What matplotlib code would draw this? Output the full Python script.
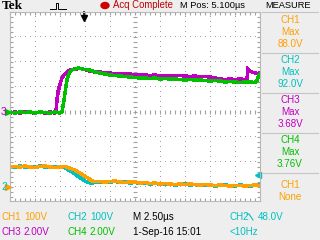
import numpy as np
import matplotlib
matplotlib.use('Agg')
import matplotlib.pyplot as plt
from matplotlib.lines import Line2D
from matplotlib.patches import Circle

# scope settings
t_center = 5.1      # M Pos, us
t_per_div = 2.5     # us/div
ch_scale = {'CH1': 100.0, 'CH2': 100.0, 'CH3': 2.0, 'CH4': 2.0}   # V/div
ch_offset = {'CH1': -3.0, 'CH2': -3.0, 'CH3': 0.0, 'CH4': 0.0}   # div
ch_color = {'CH1': '#FFA000', 'CH2': '#00C0C0', 'CH3': '#C000C0', 'CH4': '#00C000'}

# traces (time in us, volts)
ch3_t = [-7.4, -6.9, -6.4, -5.9, -5.4, -4.9, -4.4, -3.9, -3.4, -2.9,
         -2.8, -2.7, -2.6, -2.4, -2.2, -2.0, -1.8, -1.6, -1.4, -0.9,
         -0.4, 0.1, 0.6, 1.1, 1.6, 2.1, 2.6, 3.1, 3.6, 4.1,
         4.6, 5.1, 5.6, 6.1, 6.6, 7.1, 7.6, 8.1, 8.6, 9.1,
         9.6, 10.1, 10.6, 11.1, 11.6, 12.1, 12.6, 13.1, 13.6, 14.1,
         14.6, 15.1, 15.6, 16.1, 16.3, 16.4, 16.6, 16.8, 17.1, 17.4,
         17.6]
ch3_v = [-0.08, 0.00, -0.08, 0.00, -0.04, -0.08, 0.00, -0.08, 0.00, -0.08,
         0.00, 0.96, 1.60, 2.24, 2.72, 2.96, 3.12, 3.28, 3.36, 3.44,
         3.48, 3.40, 3.28, 3.20, 3.20, 3.12, 3.12, 3.04, 3.08, 3.04,
         3.04, 2.96, 3.00, 2.96, 2.92, 2.96, 2.88, 2.92, 2.88, 2.88,
         2.92, 2.88, 2.84, 2.88, 2.80, 2.84, 2.80, 2.72, 2.64, 2.60,
         2.64, 2.60, 2.64, 2.60, 2.64, 3.44, 3.28, 3.20, 3.12, 3.08,
         3.12]

ch4_t = [-7.4, -6.9, -6.4, -5.9, -5.4, -4.9, -4.4, -3.9, -3.4, -2.9,
         -2.4, -2.2, -2.1, -2.0, -1.9, -1.8, -1.7, -1.6, -1.4, -1.2,
         -0.9, -0.6, -0.4, 0.1, 0.6, 1.1, 1.6, 2.1, 2.6, 3.1,
         3.6, 4.1, 4.6, 5.1, 5.6, 6.1, 6.6, 7.1, 7.6, 8.1,
         8.6, 9.1, 9.6, 10.1, 10.6, 11.1, 11.6, 12.1, 12.6, 13.1,
         13.6, 14.1, 14.6, 15.1, 15.6, 16.1, 16.6, 17.1, 17.3, 17.4,
         17.6]
ch4_v = [0.00, -0.08, 0.00, -0.04, 0.00, -0.08, 0.00, -0.04, -0.08, 0.00,
         -0.08, 0.00, 0.48, 0.96, 1.52, 2.08, 2.56, 2.88, 3.20, 3.36,
         3.44, 3.52, 3.48, 3.40, 3.36, 3.20, 3.12, 3.04, 2.96, 2.92,
         2.88, 2.84, 2.80, 2.76, 2.72, 2.72, 2.68, 2.72, 2.64, 2.68,
         2.64, 2.64, 2.60, 2.56, 2.60, 2.56, 2.56, 2.52, 2.48, 2.52,
         2.48, 2.40, 2.44, 2.40, 2.36, 2.40, 2.40, 2.36, 2.48, 2.80,
         3.04]

ch1_t = [-7.4, -6.9, -6.4, -5.9, -5.4, -4.9, -4.4, -3.9, -3.4, -2.9,
         -2.4, -1.9, -1.6, -1.2, -0.9, -0.6, -0.4, -0.1, 0.1, 0.4,
         0.6, 0.8, 1.1, 1.6, 2.1, 2.6, 3.1, 3.6, 4.1, 4.6,
         5.1, 5.6, 6.1, 6.6, 7.1, 7.6, 8.1, 8.6, 9.1, 9.6,
         10.1, 10.6, 11.1, 11.6, 12.1, 12.6, 13.1, 13.6, 14.1, 14.6,
         15.1, 15.6, 16.1, 16.6, 17.1, 17.6]
ch1_v = [80, 82, 80, 84, 80, 78, 82, 84, 80, 78,
         80, 82, 78, 72, 68, 60, 56, 48, 42, 36,
         30, 24, 22, 22, 20, 22, 24, 20, 18, 20,
         20, 16, 18, 14, 16, 12, 14, 12, 10, 12,
         10, 12, 10, 8, 10, 8, 6, 8, 6, 4,
         6, 6, 4, 6, 8, 6]

ch2_t = [-7.4, -6.9, -6.4, -5.9, -5.4, -4.9, -4.4, -3.9, -3.4, -2.9,
         -2.4, -1.9, -1.6, -1.2, -0.9, -0.6, -0.2, 0.1, 0.4, 0.8,
         1.1, 1.6, 2.1, 2.6, 3.1, 3.6, 4.1, 4.6, 5.1, 5.6,
         6.1, 6.6, 7.1, 7.6, 8.1, 8.6, 9.1, 9.6, 10.1, 10.6,
         11.1, 11.6, 12.1, 12.6, 13.1, 13.6, 14.1, 14.6, 15.1, 15.6,
         16.1, 16.6, 17.1, 17.6]
ch2_v = [82, 80, 84, 80, 82, 80, 84, 80, 82, 80,
         82, 78, 68, 60, 52, 42, 32, 24, 18, 16,
         18, 20, 18, 20, 22, 18, 20, 16, 18, 14,
         16, 12, 14, 12, 10, 14, 8, 10, 12, 8,
         10, 6, 8, 10, 4, 6, 8, 6, 4, 8,
         6, 4, 6, 8]

measure_ch = ['CH1', 'CH2', 'CH3', 'CH4']
measure_val = ['88.0V', '92.0V', '3.68V', '3.76V']
trig_level = 48.0   # V on CH2

W, H = 320, 240
bg = '#EEEEEE'
grid_c = '#A0A0A0'
font = ['Liberation Sans', 'DejaVu Sans']

fig = plt.figure(figsize=(3.2, 2.4), dpi=100, facecolor=bg)

def ptext(x, y, s, color='black', size=7.1, ha='left', **kw):
    fig.text(x / W, 1 - y / H, s, color=color, fontsize=size, ha=ha,
             va='center', family=font, **kw)

def pline(xs, ys, color, lw=0.8):
    fig.add_artist(Line2D([x / W for x in xs], [1 - y / H for y in ys],
                          color=color, lw=lw, transform=fig.transFigure))

# graticule
x0 = t_center - 5 * t_per_div
x1 = t_center + 5 * t_per_div
ax = fig.add_axes([10 / W, 39 / H, 250 / W, 189 / H])
ax.set_facecolor('white')
ax.set_xlim(x0, x1)
ax.set_ylim(-3.56, 4)
for s in ax.spines.values():
    s.set_color('#B8B8B8')
    s.set_linewidth(0.8)
ax.set_xticks(np.arange(x0, x1 + 0.01, t_per_div / 5))
ax.set_yticks(np.arange(4, -3.6, -0.2))
ax.tick_params(direction='in', length=2, width=0.8, color=grid_c,
               top=True, right=True, labelbottom=False, labelleft=False)

sub_x = np.arange(x0, x1 + 0.01, t_per_div / 5)
sub_y = np.arange(4, -3.6, -0.2)
for k in range(1, 10):
    gx = x0 + k * t_per_div
    if k == 5:
        ax.plot(np.full_like(sub_y, gx), sub_y, ls='none', marker='_',
                ms=3, mew=0.8, color=grid_c)
    else:
        ax.plot(np.full_like(sub_y, gx), sub_y, ls='none', marker=',',
                color=grid_c)
for gy in range(-3, 4):
    if gy == 0:
        ax.plot(sub_x, np.zeros_like(sub_x), ls='none', marker='|',
                ms=3, mew=0.8, color=grid_c)
    else:
        ax.plot(sub_x, np.full_like(sub_x, gy), ls='none', marker=',',
                color=grid_c)

# traces
traces = [('CH2', ch2_t, ch2_v), ('CH1', ch1_t, ch1_v),
          ('CH3', ch3_t, ch3_v), ('CH4', ch4_t, ch4_v)]
for name, t, v in traces:
    d = np.array(v) / ch_scale[name] + ch_offset[name]
    ax.plot(t, d, color=ch_color[name], lw=1.8, antialiased=False,
            solid_joinstyle='miter')

# trigger position and level markers
ax.plot([0, 0], [4, 3.86], color='black', lw=1.2, clip_on=False)
ax.plot([0], [3.78], marker='v', ms=4, color='black', clip_on=False)
tl = trig_level / ch_scale['CH2'] + ch_offset['CH2']
ax.plot([x1 - 0.25], [tl], marker='<', ms=5, color=ch_color['CH2'], clip_on=False)
ax.plot([x1 - 0.3, x1], [tl, tl], color=ch_color['CH2'], lw=1.0, clip_on=False)

# ground markers on the left
ptext(1, 112, '3', ch_color['CH3'], size=7.5)
fig.add_artist(Line2D([8 / W], [1 - 112 / H], marker='>', ms=4,
                      color=ch_color['CH4'], transform=fig.transFigure))
ptext(1, 187, '2', ch_color['CH2'], size=7.5)
fig.add_artist(Line2D([8 / W], [1 - 187 / H], marker='>', ms=4,
                      color=ch_color['CH1'], transform=fig.transFigure))

# top bar
fig.text(1.5 / W, 1 - 6 / H, 'Tek', fontsize=9.5, fontweight='bold',
         family=['Liberation Serif', 'DejaVu Serif'], va='center')
pline([50, 53, 53, 56, 56, 58, 58, 61, 61, 66], [9, 9, 9, 9, 3, 3, 9, 9, 9, 9],
      'black', lw=0.7)
fig.add_artist(Circle((105 / W, 1 - 5.5 / H), 4 / W, color='#D00000',
                      transform=fig.transFigure))
ptext(113, 5.5, 'Acq Complete', '#C00000', size=6.9)
ptext(180, 5.5, 'M Pos: 5.100µs', 'black', size=6.7)

# measure panel
ptext(288, 5.5, 'MEASURE', 'black', size=6.7, ha='center')
for sy in [12, 53, 93, 133, 173]:
    pline([262, 318], [sy, sy], '#C4C4C4', lw=0.8)
for i, (name, val) in enumerate(zip(measure_ch, measure_val)):
    y = 20 + 40 * i
    ptext(290, y, name, ch_color[name], ha='center')
    ptext(290, y + 12, 'Max', ch_color[name], ha='center')
    ptext(290, y + 24, val, ch_color[name], ha='center')
ptext(290, 185, 'CH1', ch_color['CH1'], ha='center')
ptext(290, 197, 'None', ch_color['CH1'], ha='center')

# bottom status
ptext(1, 217, 'CH1', ch_color['CH1'])
ptext(24, 217, '100V', ch_color['CH1'])
ptext(67, 217, 'CH2', ch_color['CH2'])
ptext(90, 217, '100V', ch_color['CH2'])
ptext(133, 217, 'M 2.50µs', 'black')
ptext(230, 217, 'CH2', ch_color['CH2'])
pline([247, 249, 253], [214, 214, 220], ch_color['CH2'], lw=0.8)
ptext(258, 217, '48.0V', ch_color['CH2'])
ptext(1, 232, 'CH3', ch_color['CH3'])
ptext(23, 232, '2.00V', ch_color['CH3'])
ptext(67, 232, 'CH4', ch_color['CH4'])
ptext(89, 232, '2.00V', ch_color['CH4'])
ptext(133, 232, '1-Sep-16 15:01', 'black')
ptext(230, 232, '<10Hz', ch_color['CH2'])

fig.savefig('out.png', dpi=100, facecolor=bg)
